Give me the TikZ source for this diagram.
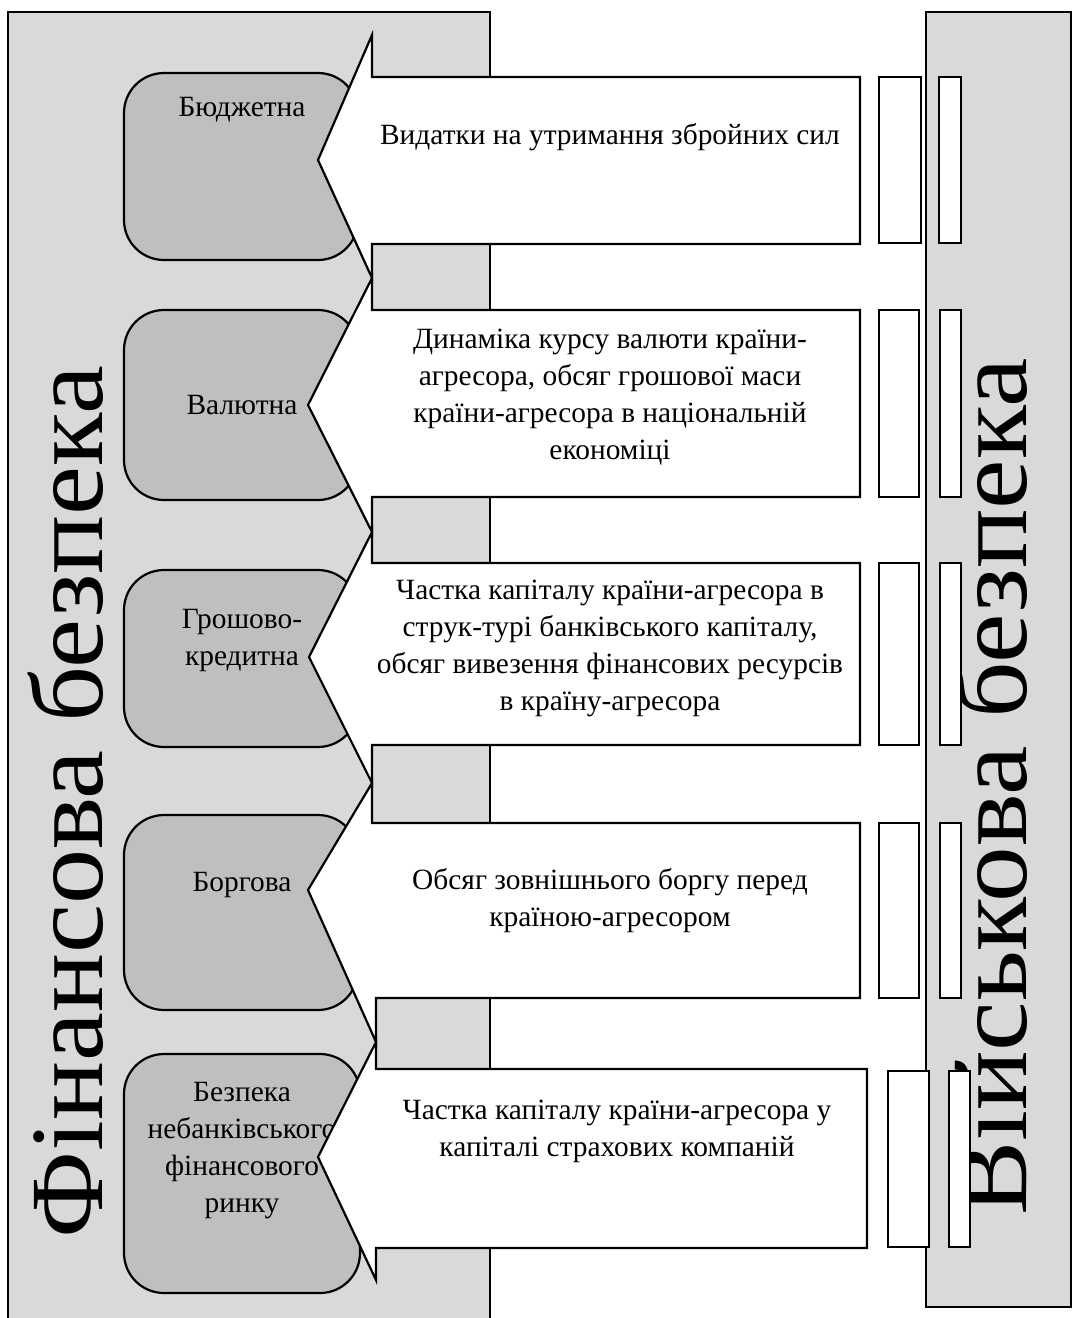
\documentclass[tikz,border=0pt]{standalone}
\usepackage{fontspec}
\setmainfont{Liberation Serif}
\definecolor{panelgray}{HTML}{D9D9D9}
\definecolor{boxgray}{HTML}{BFBFBF}
\tikzset{
  panel/.style={draw=black, line width=1.1pt, fill=panelgray},
  kindbox/.style={draw=black, line width=1.1pt, fill=boxgray, rounded corners=20pt},
  arrowshape/.style={draw=black, line width=1.1pt, fill=white, line join=miter},
  smallbar/.style={draw=black, line width=1.1pt, fill=white},
  txt/.style={font=\fontsize{14.7pt}{18.5pt}\selectfont, align=center, inner sep=0pt},
  bigtxt/.style={font=\fontsize{52pt}{60pt}\selectfont, rotate=90, inner sep=0pt, anchor=base}
}
\begin{document}
\begin{tikzpicture}[x=0.5pt,y=-0.5pt]
\useasboundingbox (0,0) rectangle (1072,1318);
% panels
\draw[panel] (8,1340) -- (8,12) -- (490,12) -- (490,1340);
\draw[panel] (926,12) rectangle (1071,1307);
\node[bigtxt] (fin) at (102,802) {\scalebox{1.06}[1]{Фінансова безпека}};
\node[bigtxt] (mil) at (1026,787) {\scalebox{1.07}[1]{Військова безпека}};
% kind boxes
\draw[kindbox] (124,73) rectangle (358,260);
\draw[kindbox] (124,310) rectangle (358,500);
\draw[kindbox] (124,570) rectangle (358,747);
\draw[kindbox] (124,815) rectangle (358,1010);
\draw[kindbox] (124,1054) rectangle (360,1293);
\node[txt] (k1) at (242,110) {Бюджетна};
\node[txt] (k2) at (242,405) {Валютна};
\node[txt] (k3) at (242,640) {Грошово-\\кредитна};
\node[txt] (k4) at (242,885) {Боргова};
\node[txt] (k5) at (242,1151) {Безпека\\небанківського\\фінансового\\ринку};
% arrows
\draw[arrowshape] (318,160) -- (372,35) -- (372,77) -- (860,77) -- (860,244) -- (372,244) -- (372,278) -- cycle;
\draw[arrowshape] (308,405) -- (372,278) -- (372,310) -- (860,310) -- (860,497) -- (372,497) -- (372,532) -- cycle;
\draw[arrowshape] (309,657) -- (372,532) -- (372,563) -- (860,563) -- (860,745) -- (372,745) -- (372,783) -- cycle;
\draw[arrowshape] (308,890) -- (372,783) -- (372,823) -- (860,823) -- (860,998) -- (376,998) -- (376,1042) -- cycle;
\draw[arrowshape] (318,1157) -- (376,1042) -- (376,1069) -- (867,1069) -- (867,1248) -- (376,1248) -- (376,1280) -- cycle;
% bars
\draw[smallbar] (879,77) rectangle (921,243);
\draw[smallbar] (939,77) rectangle (961,243);
\draw[smallbar] (879,310) rectangle (919,497);
\draw[smallbar] (940,310) rectangle (961,497);
\draw[smallbar] (879,563) rectangle (919,745);
\draw[smallbar] (940,563) rectangle (961,745);
\draw[smallbar] (879,823) rectangle (919,998);
\draw[smallbar] (940,823) rectangle (961,998);
\draw[smallbar] (888,1071) rectangle (929,1247);
\draw[smallbar] (949,1071) rectangle (970,1247);
% arrow texts
\node[txt] (a1) at (610,137) {Видатки на утримання збройних сил};
\node[txt] (a2) at (610,397) {Динаміка курсу валюти країни-\\агресора, обсяг грошової маси\\країни-агресора в національній\\економіці};
\node[txt] (a3) at (610,648) {Частка капіталу країни-агресора в\\струк-турі банківського капіталу,\\обсяг вивезення фінансових ресурсів\\в країну-агресора};
\node[txt] (a4) at (610,901) {Обсяг зовнішнього боргу перед\\країною-агресором};
\node[txt] (a5) at (617,1131) {Частка капіталу країни-агресора у\\капіталі страхових компаній};
\end{tikzpicture}
\end{document}
